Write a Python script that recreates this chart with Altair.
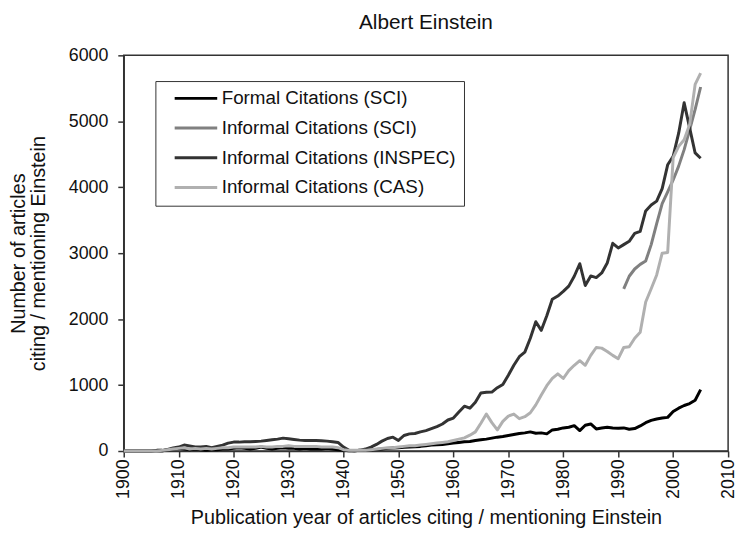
import altair as alt
import pandas as pd

# ---- data ----
years = list(range(1900, 2006))

formal_sci = [
    0, 0, 0, 0, 0, 0, 10, 10, 20, 30,            # 1900s
    40, 30, 20, 30, 20, 10, 20, 20, 30, 30,      # 1910s
    40, 50, 40, 30, 40, 60, 40, 30, 40, 50,      # 1920s
    40, 40, 30, 40, 30, 30, 30, 40, 30, 20,      # 1930s
    10, 5, 5, 10, 10, 20, 25, 30, 40, 45,        # 1940s
    50, 55, 60, 65, 70, 80, 90, 95, 100, 110,    # 1950s
    120, 130, 140, 145, 160, 170, 180, 195, 210, 220,  # 1960s
    235, 250, 265, 275, 290, 270, 275, 260, 320, 330,  # 1970s
    350, 360, 385, 310, 390, 410, 335, 350, 360, 350,  # 1980s
    345, 350, 330, 340, 380, 430, 465, 485, 500, 510,  # 1990s
    600, 650, 690, 720, 770, 930,                      # 2000-2005
]

inspec = [
    0, 0, 0, 0, 0, 0, 0, 0, 25, 45,
    60, 90, 75, 60, 60, 70, 50, 70, 90, 120,
    135, 135, 140, 140, 145, 150, 160, 170, 180, 195,
    185, 175, 165, 160, 160, 160, 155, 150, 140, 130,
    60, 10, 5, 10, 30, 60, 100, 150, 190, 210,
    160, 235, 260, 265, 290, 310, 340, 370, 410, 470,
    500, 590, 680, 650, 740, 880, 890, 893, 960, 1010,
    1150, 1300, 1430, 1500, 1710, 1960, 1830, 2050, 2300, 2350,
    2420, 2500, 2650, 2840, 2510, 2655, 2630, 2700, 2850, 3150,
    3080, 3130, 3180, 3300, 3330, 3640, 3730, 3790, 3980, 4340,
    4470, 4820, 5280, 4900, 4520, 4440,
]

cas = [
    0, 0, 0, 0, 0, 0, 0, 10, 20, 30,
    40, 50, 30, 40, 30, 40, 30, 40, 50, 50,
    60, 60, 60, 60, 60, 70, 60, 60, 70, 70,
    80, 70, 70, 70, 70, 70, 60, 60, 60, 50,
    20, 10, 10, 10, 10, 20, 30, 40, 50, 50,
    60, 70, 80, 80, 90, 100, 110, 120, 130, 140,
    160, 180, 200, 240, 290, 420, 560, 430, 320, 450,
    530, 560, 490, 520, 580, 700, 850, 990, 1100, 1170,
    1100, 1220, 1300, 1370, 1300, 1450, 1570, 1560, 1510, 1450,
    1400, 1570, 1580, 1710, 1800, 2260, 2460, 2670, 3000, 3010,
    4450, 4620, 4720, 4950, 5560, 5730,
]

sci_years = list(range(1991, 2006))
informal_sci = [2460, 2650, 2760, 2830, 2880, 3130, 3450, 3750, 3930,
                4110, 4320, 4570, 4870, 5180, 5520]

series_names = [
    "Formal Citations (SCI)",
    "Informal Citations (SCI)",
    "Informal Citations (INSPEC)",
    "Informal Citations (CAS)",
]
series_colors = ["#000000", "#808080", "#333333", "#b0b0b0"]
series_widths = [3, 3, 1.4, 1.2]

x_ticks = list(range(1900, 2011, 10))
y_ticks = list(range(0, 6001, 1000))

rows = []
for yr, v in zip(years, formal_sci):
    rows.append({"year": yr, "value": v, "series": series_names[0]})
for yr, v in zip(sci_years, informal_sci):
    rows.append({"year": yr, "value": v, "series": series_names[1]})
for yr, v in zip(years, inspec):
    rows.append({"year": yr, "value": v, "series": series_names[2]})
for yr, v in zip(years, cas):
    rows.append({"year": yr, "value": v, "series": series_names[3]})
df = pd.DataFrame(rows)

FONT = "Liberation Sans"

legend_cfg = dict(
    title=None,
    orient="none",
    legendX=32,
    legendY=26,
    symbolType="stroke",
    symbolSize=1849,
    symbolOffset=10,
    clipHeight=19,
    rowPadding=10,
    labelOffset=3,
    labelFontSize=19,
    labelFont=FONT,
    labelColor="#111111",
    labelLimit=400,
    padding=8,
    strokeColor="#333333",
    fillColor="#ffffff",
)

chart = alt.Chart(df).mark_line(strokeJoin="round").encode(
    x=alt.X(
        "year:Q",
        scale=alt.Scale(domain=[1900, 2010], nice=False, zero=False),
        axis=alt.Axis(
            values=x_ticks,
            format="d",
            labelAngle=270,
            labelPadding=2,
            title="Publication year of articles citing / mentioning Einstein",
            titleBaseline="middle",
            titleY=67,
        ),
    ),
    y=alt.Y(
        "value:Q",
        scale=alt.Scale(domain=[0, 6000], nice=False),
        axis=alt.Axis(
            values=y_ticks,
            format="d",
            labelPadding=10,
            title=["Number of articles", "citing / mentioning Einstein"],
            titleAngle=270,
            titleAlign="center",
            titleBaseline="middle",
            titleX=-106,
            titleY=200,
            titleLineHeight=20,
        ),
    ),
    color=alt.Color(
        "series:N",
        scale=alt.Scale(domain=series_names, range=series_colors),
        legend=alt.Legend(**legend_cfg),
    ),
    strokeWidth=alt.StrokeWidth(
        "series:N",
        scale=alt.Scale(domain=series_names, range=series_widths),
        legend=alt.Legend(**legend_cfg),
    ),
).properties(
    width=611,
    height=400,
    title=alt.TitleParams(
        "Albert Einstein",
        fontSize=21,
        font=FONT,
        fontWeight="normal",
        color="#111111",
        anchor="middle",
        frame="group",
        baseline="alphabetic",
        offset=1,
        dy=4,
    ),
    autosize=alt.AutoSizeParams(type="none"),
    padding={"left": 117, "top": 45, "right": 10, "bottom": 78},
).configure_view(
    stroke="#333333",
    strokeWidth=1.5,
).configure_axis(
    domainColor="#333333",
    domainWidth=1.5,
    tickColor="#333333",
    tickWidth=1.5,
    tickSize=6,
    grid=False,
    labelFont=FONT,
    labelFontSize=18,
    labelColor="#111111",
    titleFont=FONT,
    titleFontSize=20,
    titleFontWeight="normal",
    titleColor="#111111",
)

chart.save("out.html", embed_options={"renderer": "svg", "actions": False})
